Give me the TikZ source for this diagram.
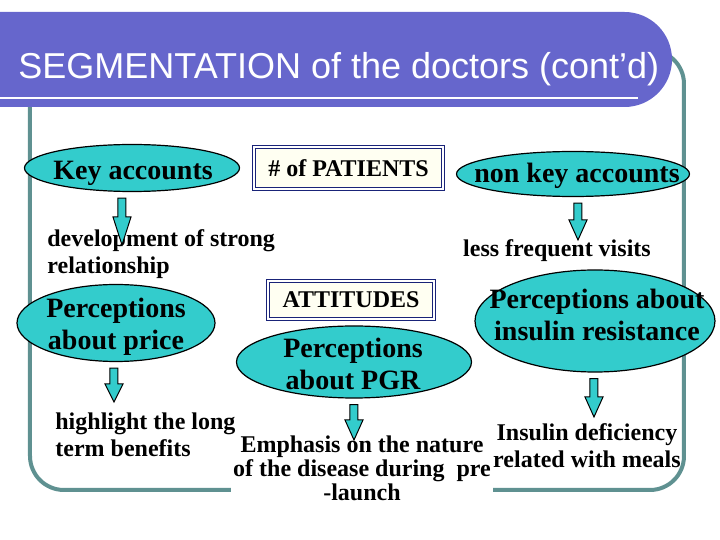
\documentclass[tikz,border=0pt]{standalone}
\usepackage{fontspec}
\setmainfont{Liberation Serif}
\setsansfont{Liberation Sans}
\usetikzlibrary{shapes.geometric,shapes.misc,calc}
\definecolor{bannerblue}{RGB}{102,102,204}
\definecolor{framegrey}{RGB}{95,145,145}
\definecolor{aqua}{RGB}{51,204,204}
\definecolor{boxnavy}{RGB}{25,35,120}
\definecolor{cream}{RGB}{255,255,242}
\tikzset{
  oval/.style={ellipse, draw=black, line width=0.6pt, fill=aqua, inner sep=0pt},
  bigtxt/.style={font=\bfseries\fontsize{14}{16}\selectfont, align=center, inner sep=0pt},
  smalltxt/.style={font=\bfseries\fontsize{12}{13.5}\selectfont, inner sep=0pt},
  framebox/.style={draw=boxnavy, double=white, double distance=1pt, line width=0.6pt, fill=cream, inner sep=0pt, font=\bfseries\fontsize{12}{14}\selectfont},
  blockarrow/.style={fill=aqua, draw=black, line width=0.5pt, line join=miter}
}
\newcommand{\fatarrow}[3]{%
  \draw[blockarrow] let \p1=(#1.south), \p2=(#2) in
    (\x2-2pt,\y1-3pt) -- (\x2+2pt,\y1-3pt) -- (\x2+2pt,\y2+#3) -- (\x2+4.5pt,\y2+#3)
    -- (\x2,\y2) -- (\x2-4.5pt,\y2+#3) -- (\x2-2pt,\y2+#3) -- cycle;
}
\begin{document}
\begin{tikzpicture}[x=0.5pt,y=-0.5pt]
\useasboundingbox (0,0) rectangle (720,540);
\draw[framegrey, line width=2pt, rounded corners=17pt] (30,50) rectangle (684,490);
\node[rounded rectangle, rounded rectangle left arc=none, fill=bannerblue, inner sep=0pt,
  minimum width=336pt, minimum height=47.5pt] (banner) at (336,59.5) {};
\draw[white, line width=1.3pt] (banner.west |- 0,98) -- (638,98);
\node[anchor=base west, text=white, inner sep=0pt, font=\sffamily\fontsize{18}{20}\selectfont] (title) at (18,79) {SEGMENTATION of the doctors (cont’d)};

\node[framebox, minimum width=94.5pt, minimum height=21pt] (patients) at (348.5,168) {\# of PATIENTS};
\node[framebox, minimum width=83pt, minimum height=19pt] (attitudes) at (351,300) {ATTITUDES};

\node[oval, minimum width=107.5pt, minimum height=23.5pt] (key) at (132,168) {};
\node[bigtxt, anchor=base] (keylbl) at (133,180) {Key accounts};
\node[oval, minimum width=116.5pt, minimum height=22.5pt] (nonkey) at (573,174) {};
\node[bigtxt, anchor=base] (nonkeylbl) at (577,183) {non key accounts};
\node[oval, minimum width=99pt, minimum height=38.5pt] (price) at (116,323) {};
\node[bigtxt, anchor=base] (pricelbl) at (116,350) {Perceptions\\about price};
\node[oval, minimum width=117.5pt, minimum height=36pt] (pgr) at (354,362) {};
\node[bigtxt, anchor=base] (pgrlbl) at (353,390) {Perceptions\\about PGR};
\node[oval, minimum width=120pt, minimum height=51pt] (insulin) at (595,321) {};
\node[bigtxt, anchor=base] (insulinlbl) at (597,341) {Perceptions about\\insulin resistance};

\node[smalltxt, align=left, anchor=base west] (devel) at (47,274) {development of strong\\relationship};
\node[smalltxt, anchor=base] (visits) at (557,257) {less frequent visits};
\node[smalltxt, align=left, anchor=base west] (benefits) at (55,457) {highlight the long\\term benefits};
\node[smalltxt, align=center, anchor=base, fill=white, inner sep=1pt, font=\bfseries\fontsize{12}{12}\selectfont] (nature) at (362,501) {Emphasis on the nature\\of the disease during\ \ pre\\-launch};
\node[smalltxt, align=center, anchor=base] (deficiency) at (587,468) {Insulin deficiency\\related with meals};

\coordinate (t1) at (122,245);
\coordinate (t2) at (578,240);
\coordinate (t3) at (114,402);
\coordinate (t4) at (354,440);
\coordinate (t5) at (594,417);
\fatarrow{key}{t1}{14pt}
\fatarrow{nonkey}{t2}{10pt}
\fatarrow{price}{t3}{9pt}
\fatarrow{pgr}{t4}{10pt}
\fatarrow{insulin}{t5}{10pt}
\end{tikzpicture}
\end{document}
